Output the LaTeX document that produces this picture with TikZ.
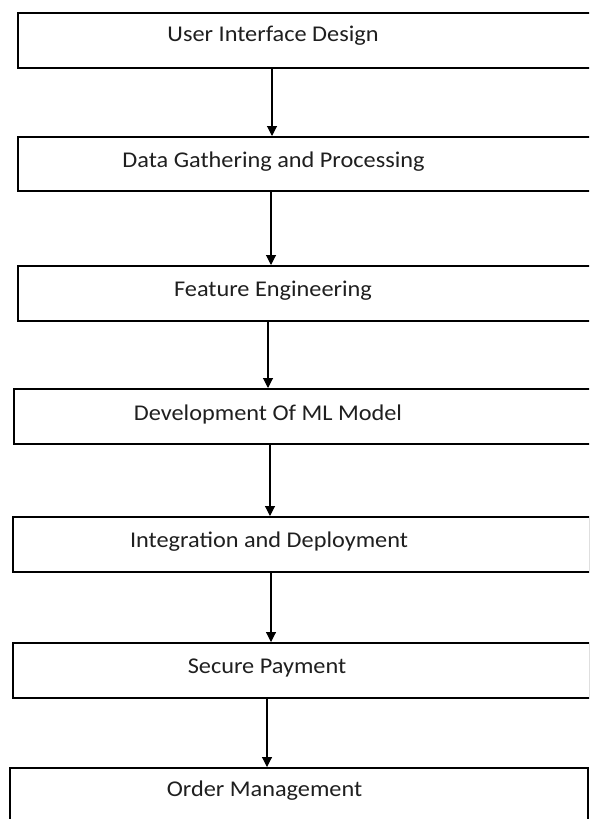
\documentclass[tikz,border=0pt]{standalone}
\usepackage{fontspec}
\setmainfont{Carlito}
\usetikzlibrary{arrows.meta}
\begin{document}
\begin{tikzpicture}[x=1pt,y=-1pt,
  stepbox/.style={draw=black,line width=2.2pt,inner sep=0pt,anchor=north west},
  lbl/.style={anchor=base,inner sep=0pt,text=black!88,font=\fontsize{22.5}{27}\selectfont,xscale=1.08},
  arr/.style={draw=black,line width=1.1pt,-{Triangle[length=10pt,width=10pt]}}]
\useasboundingbox (0,0) rectangle (589,819);
\clip (0,0) rectangle (589,819);
\fill[white] (0,0) rectangle (589,819);
% boxes
\node[stepbox,minimum width=583pt,minimum height=55pt] (b1) at (17,12) {};
\node[stepbox,minimum width=583pt,minimum height=54pt] (b2) at (17,136) {};
\node[stepbox,minimum width=583pt,minimum height=55pt] (b3) at (17,265) {};
\node[stepbox,minimum width=587pt,minimum height=55pt] (b4) at (13,388) {};
\node[stepbox,minimum width=576.5pt,minimum height=55pt] (b5) at (12,516) {};
\node[stepbox,minimum width=576.5pt,minimum height=55pt] (b6) at (12,642) {};
\node[stepbox,minimum width=578pt,minimum height=70pt] (b7) at (9,767) {};
% labels
\node[lbl] (t1) at (273,41.7) {User Interface Design};
\node[lbl] (t2) at (273.5,167.3) {Data Gathering and Processing};
\node[lbl] (t3) at (273,296.7) {Feature Engineering};
\node[lbl] (t4) at (268,420) {Development Of ML Model};
\node[lbl] (t5) at (269,547.5) {Integration and Deployment};
\node[lbl] (t6) at (267,673.5) {Secure Payment};
\node[lbl] (t7) at (264.5,796.7) {Order Management};
% arrow columns
\coordinate (x1) at (272,0);
\coordinate (x2) at (271,0);
\coordinate (x3) at (268,0);
\coordinate (x4) at (270,0);
\coordinate (x5) at (271,0);
\coordinate (x6) at (267,0);
\draw[arr] (b1.south -| x1) -- (b2.north -| x1);
\draw[arr] (b2.south -| x2) -- (b3.north -| x2);
\draw[arr] (b3.south -| x3) -- (b4.north -| x3);
\draw[arr] (b4.south -| x4) -- (b5.north -| x4);
\draw[arr] (b5.south -| x5) -- (b6.north -| x5);
\draw[arr] (b6.south -| x6) -- (b7.north -| x6);
\end{tikzpicture}
\end{document}
